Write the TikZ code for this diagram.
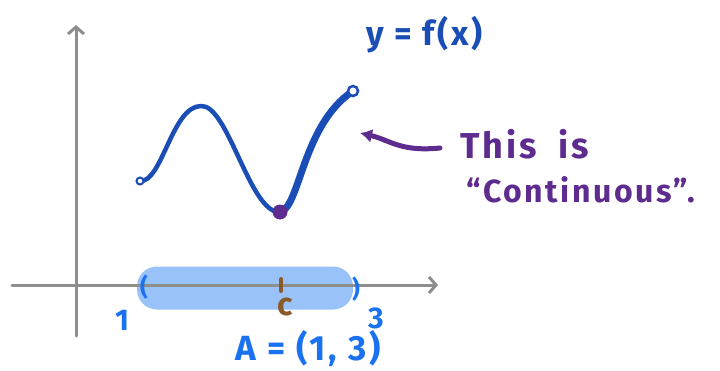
\documentclass[tikz,border=0pt]{standalone}
\usepackage{fontspec}
\setmainfont{Fira Sans}
\newfontfamily\hand[LetterSpace=8]{Fira Sans}
\usetikzlibrary{arrows.meta}
\definecolor{axisgray}{HTML}{8E8E8E}
\definecolor{curveblue}{HTML}{1A4DB5}
\definecolor{hlblue}{HTML}{99C2F8}
\definecolor{brightblue}{HTML}{1A72F0}
\definecolor{notepurple}{HTML}{5E2C8E}
\definecolor{cbrown}{HTML}{8B5A2B}
\tikzset{
  axisline/.style={draw=axisgray, line width=3pt, line cap=round, -{Straight Barb[length=7pt,width=16pt,line width=3pt]}},
  curveline/.style={draw=curveblue, line cap=round, line join=round},
  openpt/.style={circle, draw=curveblue, fill=white, line width=2.5pt, inner sep=0pt},
  handtext/.style={inner sep=0pt},
}
\begin{document}
\begin{tikzpicture}[x=1pt,y=-1pt]
\useasboundingbox (0,0) rectangle (720,370);
% highlight
\node[fill=hlblue, rounded corners=20pt, minimum width=216pt, minimum height=43pt, inner sep=0pt] (band) at (245,288) {};
% axes
\coordinate (xs) at (12,285);
\coordinate (xe) at (438,285);
\coordinate (ys) at (76,336);
\coordinate (ye) at (76,25);
\draw[axisline] (xs) -- (xe);
\draw[axisline] (ys) -- (ye);
% parens and tick
\node[handtext, text=brightblue, font=\bfseries\fontsize{24}{24}\selectfont] (lp) at (144,287) {(};
\node[handtext, text=brightblue, font=\bfseries\fontsize{24}{24}\selectfont] (rp) at (356,289) {)};
\coordinate (ct) at (281,279);
\coordinate (cb) at (281,291);
\draw[cbrown, line width=4pt, line cap=round] (ct) -- (cb);
\node[handtext, text=cbrown, font=\bfseries\fontsize{32}{32}\selectfont, anchor=base] (c) at (285,315) {c};
\node[handtext, text=brightblue, font=\bfseries\fontsize{30}{30}\selectfont, anchor=base] (one) at (122,330) {1};
\node[handtext, text=brightblue, font=\bfseries\fontsize{30}{30}\selectfont, anchor=base] (three) at (376,328) {3};
\node[handtext, text=brightblue, font=\hand\bfseries\fontsize{35}{35}\selectfont, anchor=base] (A) at (308,360) {A = (1, 3)};
% curve
\coordinate (p0) at (140,181);
\coordinate (p1) at (201,106);
\coordinate (p2) at (280,212);
\coordinate (p3) at (353,91);
\draw[curveline, line width=4.5pt] (p0) .. controls (162,183) and (172,106) .. (p1) .. controls (228,104) and (250,214) .. (p2);
\draw[curveline, line width=7pt] (p2) .. controls (300,208) and (302,125) .. (p3);
\node[openpt, minimum size=7pt, line width=2pt] (o1) at (p0) {};
\node[openpt, minimum size=10pt] (o2) at (p3) {};
\node[circle, fill=notepurple, inner sep=0pt, minimum size=15pt] (dot) at (p2) {};
% labels
\node[handtext, text=curveblue, font=\hand\bfseries\fontsize{34}{34}\selectfont, anchor=base west] (yf) at (366,45) {y = f(x)};
\node[handtext, text=notepurple, font=\hand\bfseries\fontsize{36}{36}\selectfont, anchor=base west] (this) at (460,158) {This\hspace{0.6em}is};
\node[handtext, text=notepurple, font=\hand\bfseries\fontsize{32}{32}\selectfont, anchor=base west] (cont) at (466,202) {“Continuous”.};
\coordinate (as) at (440,148);
\draw[notepurple, line width=5pt, line cap=round, -{Latex[length=12pt,width=14pt]}] (as) .. controls (400,152) and (390,140) .. (360,133);
\end{tikzpicture}
\end{document}
